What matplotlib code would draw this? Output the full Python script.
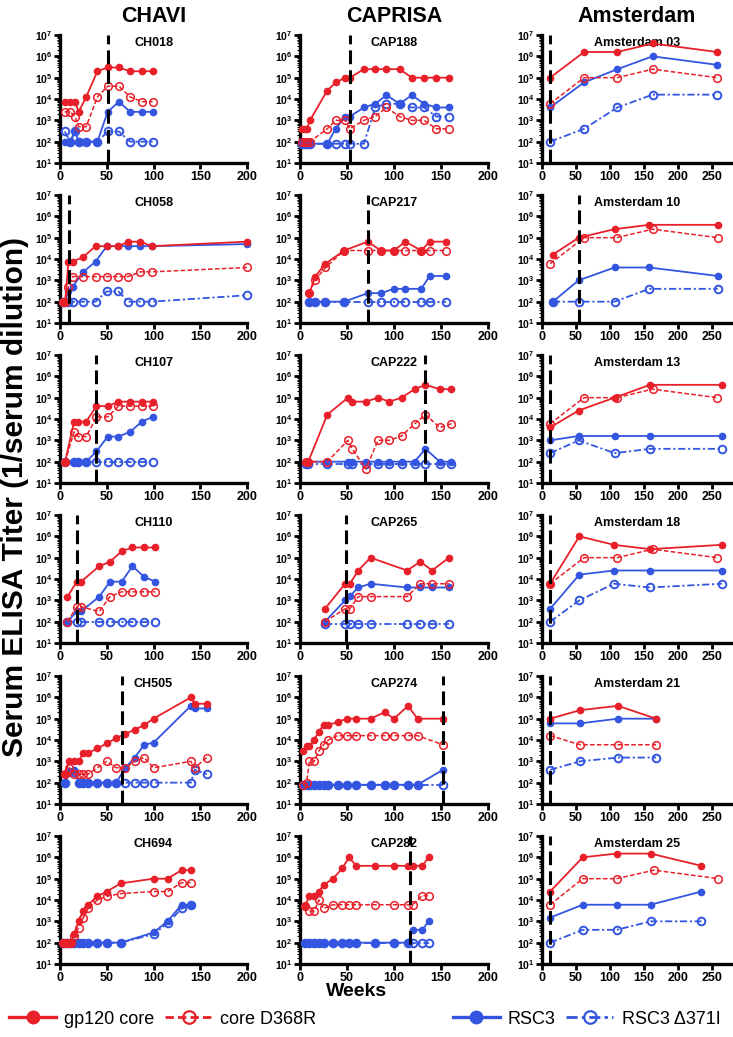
import matplotlib
matplotlib.use('Agg')
import matplotlib.pyplot as plt
from matplotlib.lines import Line2D
from matplotlib.ticker import LogLocator, NullFormatter

plt.rcParams['font.family'] = ['Liberation Sans', 'DejaVu Sans']
plt.rcParams['mathtext.fontset'] = 'custom'
plt.rcParams['mathtext.rm'] = 'Liberation Sans:bold'
plt.rcParams['mathtext.it'] = 'Liberation Sans:bold'
plt.rcParams['mathtext.bf'] = 'Liberation Sans:bold'

RED = '#e8202a'
BLUE = '#3355e0'

# ---- data (weeks, titers) ----
# CHAVI
CH018_W = [5, 11, 16, 20, 28, 40, 51, 63, 75, 88, 99]
CH018_CORE = [7500, 7500, 7500, 2500, 12500, 200000, 300000, 300000, 200000, 200000, 200000]
CH018_D368R = [2500, 2500, 1500, 500, 500, 12500, 40000, 40000, 12500, 7500, 7500]
CH018_RSC3 = [100, 100, 300, 100, 100, 100, 2500, 7500, 2500, 2500, 2500]
CH018_D371 = [300, 100, 300, 100, 100, 100, 300, 300, 100, 100, 100]

CH058_W = [3, 5.5, 9, 13.5, 25, 38, 50, 62.5, 73, 86, 98, 200]
CH058_CORE = [100, 100, 7500, 7500, 12500, 40000, 40000, 40000, 65000, 65000, 40000, 65000]
CH058_D368R = [100, 100, 500, 1500, 1500, 1500, 1500, 1500, 1500, 2500, 2500, 4000]
CH058_RSC3 = [100, 100, 300, 500, 2500, 7500, 40000, 40000, 40000, 40000, 40000, 50000]
CH058_D371 = [100, 100, 100, 100, 100, 100, 300, 300, 100, 100, 100, 200]

CH107_W = [5.5, 15, 19.5, 28, 39, 51, 62.5, 75, 87.5, 99]
CH107_CORE = [100, 7500, 7500, 7500, 40000, 40000, 65000, 65000, 65000, 65000]
CH107_D368R = [100, 2500, 1500, 1500, 12500, 12500, 40000, 40000, 40000, 40000]
CH107_RSC3 = [100, 100, 100, 100, 300, 1500, 1500, 2500, 7500, 12500]
CH107_D371 = [100, 100, 100, 100, 100, 100, 100, 100, 100, 100]

CH110_W = [8, 18, 22.5, 42, 53.5, 66, 77.5, 90, 102]
CH110_CORE = [1500, 7500, 7500, 40000, 65000, 200000, 300000, 300000, 300000]
CH110_D368R = [100, 500, 500, 300, 1500, 2500, 2500, 2500, 2500]
CH110_RSC3 = [100, 300, 300, 1500, 7500, 7500, 40000, 12500, 7500]
CH110_D371 = [100, 100, 100, 100, 100, 100, 100, 100, 100]

CH505_W = [5, 10, 15, 20, 25, 30, 40, 50, 60, 70, 80, 90, 100, 140, 144, 157]
CH505_CORE = [250, 1000, 1000, 1000, 2500, 2500, 4000, 7000, 12000, 20000, 30000, 50000, 100000, 1000000, 500000, 500000]
CH505_D368R = [250, 500, 250, 250, 250, 250, 500, 1000, 500, 500, 1000, 1500, 500, 1000, 500, 1500]
CH505_RSC3 = [100, 300, 400, 100, 100, 100, 100, 100, 100, 500, 1500, 6000, 7500, 400000, 300000, 300000]
CH505_D371 = [100, 300, 300, 100, 100, 100, 100, 100, 100, 100, 100, 100, 100, 100, 400, 250]

CH694_W = [3, 6, 9, 12, 15, 20, 25, 30, 40, 50, 65, 100, 115, 130, 140]
CH694_CORE = [100, 100, 100, 100, 250, 1000, 3000, 6000, 15000, 25000, 60000, 100000, 100000, 250000, 250000]
CH694_D368R = [100, 100, 100, 100, 200, 500, 1500, 4000, 10000, 15000, 20000, 25000, 25000, 65000, 65000]
CH694_RSC3 = [100, 100, 100, 100, 100, 100, 100, 100, 100, 100, 100, 300, 1000, 6000, 6000]
CH694_D371 = [100, 100, 100, 100, 100, 100, 100, 100, 100, 100, 100, 250, 800, 4000, 6000]

# CAPRISA
CAP188_W = [2.5, 5, 7.5, 10.6, 29, 38, 48, 53, 68, 80, 92, 106, 119, 132, 145, 159]
CAP188_CORE = [400, 400, 400, 1000, 25000, 60000, 100000, 100000, 250000, 250000, 250000, 250000, 100000, 100000, 100000, 100000]
CAP188_D368R = [100, 100, 100, 100, 400, 1000, 1000, 400, 1000, 1500, 4000, 1500, 1000, 1000, 400, 400]
CAP188_RSC3 = [80, 80, 80, 80, 80, 400, 1500, 1500, 4000, 6000, 15000, 6000, 15000, 6000, 4000, 4000]
CAP188_D371 = [80, 80, 80, 80, 80, 80, 80, 80, 80, 4000, 6000, 6000, 4000, 4000, 1500, 1500]

CAP217_W = [10, 16, 27, 47, 72, 86, 100, 112, 129, 138, 155]
CAP217_CORE = [250, 1500, 6000, 25000, 65000, 25000, 25000, 65000, 25000, 65000, 65000]
CAP217_D368R = [250, 1000, 4000, 25000, 25000, 25000, 25000, 25000, 25000, 25000, 25000]
CAP217_RSC3 = [100, 100, 100, 100, 250, 250, 400, 400, 400, 1600, 1600]
CAP217_D371 = [100, 100, 100, 100, 100, 100, 100, 100, 100, 100, 100]

CAP222_W = [6.4, 8.8, 29, 51, 55.6, 70, 83, 95, 108, 122, 133.5, 148.7, 161]
CAP222_CORE = [100, 100, 16000, 100000, 65000, 65000, 100000, 65000, 100000, 250000, 400000, 250000, 250000]
CAP222_D368R = [100, 100, 100, 1000, 400, 45, 1000, 1000, 1600, 6000, 16000, 4000, 6000]
CAP222_RSC3 = [100, 100, 100, 100, 100, 100, 100, 100, 100, 100, 400, 100, 100]
CAP222_D371 = [80, 80, 80, 80, 80, 80, 80, 80, 80, 80, 80, 80, 80]

CAP265_W = [26.5, 48, 53, 62, 75, 114, 128, 140.5, 158.5]
CAP265_CORE = [400, 6000, 6000, 25000, 100000, 25000, 65000, 25000, 100000]
CAP265_D368R = [100, 400, 400, 1500, 1500, 1500, 6000, 6000, 6000]
CAP265_RSC3 = [100, 1000, 1600, 4000, 6000, 4000, 4000, 4000, 4000]
CAP265_D371 = [80, 80, 80, 80, 80, 80, 80, 80, 80]

CAP274_W = [3, 7, 10, 15, 20, 25, 30, 40, 50, 60, 75, 90, 100, 115, 125, 152]
CAP274_CORE = [3000, 5000, 5000, 10000, 25000, 50000, 50000, 70000, 100000, 100000, 100000, 200000, 100000, 400000, 100000, 100000]
CAP274_D368R = [80, 100, 1000, 1000, 3000, 6000, 10000, 16000, 16000, 16000, 16000, 16000, 16000, 16000, 16000, 6000]
CAP274_RSC3 = [80, 80, 80, 80, 80, 80, 80, 80, 80, 80, 80, 80, 80, 80, 80, 400]
CAP274_D371 = [80, 80, 80, 80, 80, 80, 80, 80, 80, 80, 80, 80, 80, 80, 80, 80]

CAP282_W = [5, 10, 15, 20, 25, 35, 45, 52, 60, 80, 100, 115, 120, 130, 137]
CAP282_CORE = [5000, 15000, 15000, 25000, 50000, 100000, 300000, 1000000, 400000, 400000, 400000, 400000, 400000, 400000, 1000000]
CAP282_D368R = [5000, 3000, 3000, 10000, 4000, 6000, 6000, 6000, 6000, 6000, 6000, 6000, 6000, 16000, 16000]
CAP282_RSC3 = [100, 100, 100, 100, 100, 100, 100, 100, 100, 100, 100, 100, 400, 400, 1000]
CAP282_D371 = [100, 100, 100, 100, 100, 100, 100, 100, 100, 100, 100, 100, 100, 100, 100]

# Amsterdam (open-symbol series sampled at slightly different weeks)
AMS03_W = [12, 62, 111, 163, 258]
AMS03_WO = [12, 62, 111, 163, 258]
AMS03_CORE = [100000, 1600000, 1600000, 4000000, 1600000]
AMS03_D368R = [6000, 100000, 100000, 250000, 100000]
AMS03_RSC3 = [4000, 60000, 250000, 1000000, 400000]
AMS03_D371 = [100, 400, 4000, 16000, 16000]

AMS10_W = [16, 54, 107, 158, 259]
AMS10_WO = [12, 62, 110, 163, 259]
AMS10_CORE = [16000, 100000, 250000, 400000, 400000]
AMS10_D368R = [6000, 100000, 100000, 250000, 100000]
AMS10_RSC3 = [100, 1000, 4000, 4000, 1600]
AMS10_D371 = [100, 100, 100, 400, 400]

AMS13_W = [12, 54, 107, 159, 265]
AMS13_WO = [12, 62, 110, 163, 258]
AMS13_CORE = [4000, 25000, 100000, 400000, 400000]
AMS13_D368R = [6000, 100000, 100000, 250000, 100000]
AMS13_RSC3 = [1000, 1600, 1600, 1600, 1600]
AMS13_D371 = [250, 1000, 250, 400, 400]

AMS18_W = [12, 55, 106, 159, 265]
AMS18_WO = [12, 62, 111, 163, 258]
AMS18_CORE = [6000, 1000000, 400000, 250000, 400000]
AMS18_D368R = [6000, 100000, 100000, 250000, 100000]
AMS18_RSC3 = [400, 16000, 25000, 25000, 25000]
AMS18_D371 = [100, 1000, 6000, 4000, 6000]

AMS21_W = [12, 56, 112, 168]
AMS21_WO = [12, 56, 112, 168]
AMS21_CORE = [100000, 250000, 400000, 100000]
AMS21_D368R = [16000, 6000, 6000, 6000]
AMS21_RSC3 = [60000, 60000, 100000, 100000]
AMS21_D371 = [400, 1000, 1500, 1500]

AMS25_W = [12, 60, 110, 160, 235]
AMS25_WO = [12, 60, 110, 165, 260]
AMS25_CORE = [25000, 1000000, 1500000, 1500000, 400000]
AMS25_D368R = [6000, 100000, 100000, 250000, 100000]
AMS25_RSC3 = [1500, 6000, 6000, 6000, 25000]
AMS25_D371 = [100, 400, 400, 1000, 1000]

COL_TITLES = ['CHAVI', 'CAPRISA', 'Amsterdam']
SERIES_LABELS = ['gp120 core', 'core D368R', 'RSC3', 'RSC3 \u0394371I']

# (name, weeks filled, weeks open, core, d368r, rsc3, d371, vline or None)
CHAVI = [
    ('CH018', CH018_W, CH018_W, CH018_CORE, CH018_D368R, CH018_RSC3, CH018_D371, 51),
    ('CH058', CH058_W, CH058_W, CH058_CORE, CH058_D368R, CH058_RSC3, CH058_D371, 10),
    ('CH107', CH107_W, CH107_W, CH107_CORE, CH107_D368R, CH107_RSC3, CH107_D371, 39),
    ('CH110', CH110_W, CH110_W, CH110_CORE, CH110_D368R, CH110_RSC3, CH110_D371, 18),
    ('CH505', CH505_W, CH505_W, CH505_CORE, CH505_D368R, CH505_RSC3, CH505_D371, 66),
    ('CH694', CH694_W, CH694_W, CH694_CORE, CH694_D368R, CH694_RSC3, CH694_D371, None),
]
CAPRISA = [
    ('CAP188', CAP188_W, CAP188_W, CAP188_CORE, CAP188_D368R, CAP188_RSC3, CAP188_D371, 53),
    ('CAP217', CAP217_W, CAP217_W, CAP217_CORE, CAP217_D368R, CAP217_RSC3, CAP217_D371, 72),
    ('CAP222', CAP222_W, CAP222_W, CAP222_CORE, CAP222_D368R, CAP222_RSC3, CAP222_D371, 133.5),
    ('CAP265', CAP265_W, CAP265_W, CAP265_CORE, CAP265_D368R, CAP265_RSC3, CAP265_D371, 48.5),
    ('CAP274', CAP274_W, CAP274_W, CAP274_CORE, CAP274_D368R, CAP274_RSC3, CAP274_D371, 152),
    ('CAP282', CAP282_W, CAP282_W, CAP282_CORE, CAP282_D368R, CAP282_RSC3, CAP282_D371, 117),
]
AMSTERDAM = [
    ('Amsterdam 03', AMS03_W, AMS03_WO, AMS03_CORE, AMS03_D368R, AMS03_RSC3, AMS03_D371, 12),
    ('Amsterdam 10', AMS10_W, AMS10_WO, AMS10_CORE, AMS10_D368R, AMS10_RSC3, AMS10_D371, 54),
    ('Amsterdam 13', AMS13_W, AMS13_WO, AMS13_CORE, AMS13_D368R, AMS13_RSC3, AMS13_D371, 12),
    ('Amsterdam 18', AMS18_W, AMS18_WO, AMS18_CORE, AMS18_D368R, AMS18_RSC3, AMS18_D371, 12),
    ('Amsterdam 21', AMS21_W, AMS21_WO, AMS21_CORE, AMS21_D368R, AMS21_RSC3, AMS21_D371, 12),
    ('Amsterdam 25', AMS25_W, AMS25_WO, AMS25_CORE, AMS25_D368R, AMS25_RSC3, AMS25_D371, 12),
]

W_PX, H_PX = 733, 1037
fig = plt.figure(figsize=(W_PX / 100, H_PX / 100), dpi=100)

col_left = [60, 300, 542]
col_width = [187, 188, 190]
col_xmax = [200, 200, 280]
col_xticks = [[0, 50, 100, 150, 200], [0, 50, 100, 150, 200], [0, 50, 100, 150, 200, 250]]
row_top = [35, 195, 355, 515, 676, 836]
ax_h = 128

DASH_OPEN = (0, (3, 1.5))
DASHDOT = (0, (4, 1.5, 1.2, 1.5))


def draw_panel(ax, panel, xmax, xticks):
    name, w, wo, core, d368r, rsc3, d371, vline = panel
    ax.plot(w, rsc3, '-o', color=BLUE, ms=4.5, lw=1.3, clip_on=False, zorder=3)
    ax.plot(w, d371, color=BLUE, ls=DASHDOT, marker='o', mfc='none', mew=1.4, ms=5.5,
            lw=1.3, clip_on=False, zorder=3)
    ax.plot(w, core, '-o', color=RED, ms=4.5, lw=1.3, clip_on=False, zorder=4)
    ax.plot(wo, d368r, color=RED, ls=DASH_OPEN, marker='o', mfc='none', mew=1.1, ms=5.5,
            lw=1.1, clip_on=False, zorder=4)
    if vline is not None:
        ax.axvline(vline, color='black', lw=2.2, ls=(0, (4.5, 2)), zorder=5)
    ax.set_yscale('log')
    ax.set_ylim(10, 1e7)
    ax.set_xlim(0, xmax)
    ax.set_yticks([10 ** k for k in range(1, 8)])
    ax.set_yticklabels([r'$10^{%d}$' % k for k in range(1, 8)], fontsize=7.5)
    ax.yaxis.set_minor_locator(LogLocator(base=10, subs=range(2, 10), numticks=20))
    ax.yaxis.set_minor_formatter(NullFormatter())
    ax.set_xticks(xticks)
    ax.set_xticklabels([str(t) for t in xticks], fontsize=9, fontweight='bold')
    for s in ['top', 'right']:
        ax.spines[s].set_visible(False)
    for s in ['left', 'bottom']:
        ax.spines[s].set_linewidth(2.4)
    ax.tick_params(axis='both', which='major', direction='out', length=4, width=2, pad=1.5)
    ax.tick_params(axis='y', which='minor', direction='out', length=2, width=0.8)
    ax.text(0.5, 0.94, name, transform=ax.transAxes, ha='center', va='center',
            fontsize=9, fontweight='bold')


for c, panels in enumerate([CHAVI, CAPRISA, AMSTERDAM]):
    for r, panel in enumerate(panels):
        left = col_left[c] / W_PX
        bottom = 1 - (row_top[r] + ax_h) / H_PX
        ax = fig.add_axes([left, bottom, col_width[c] / W_PX, ax_h / H_PX])
        draw_panel(ax, panel, col_xmax[c], col_xticks[c])
    cx = (col_left[c] + col_width[c] / 2) / W_PX
    fig.text(cx, 1 - 17 / H_PX, COL_TITLES[c], ha='center', va='center',
             fontsize=15.5, fontweight='bold')

fig.text(15 / W_PX, 1 - 497 / H_PX, 'Serum ELISA Titer (1/serum dilution)', rotation=90,
         ha='center', va='center', fontsize=21.5, fontweight='bold')
fig.text(357 / W_PX, 1 - 992 / H_PX, 'Weeks', ha='center', va='center',
         fontsize=14, fontweight='bold')

h_core = Line2D([], [], color=RED, lw=2.4, marker='o', ms=9)
h_d368r = Line2D([], [], color=RED, lw=2, ls=(0, (3, 1.5)), marker='o', mfc='none', ms=9, mew=1.6)
h_rsc3 = Line2D([], [], color=BLUE, lw=2.4, marker='o', ms=9)
h_d371 = Line2D([], [], color=BLUE, lw=2, ls=(0, (4, 1.5, 1.2, 1.5)), marker='o', mfc='none', ms=9, mew=1.6)

leg1 = fig.legend([h_core, h_d368r], SERIES_LABELS[:2], loc='center left',
                  bbox_to_anchor=(0.0, 1 - 1019 / H_PX), ncol=2, frameon=False,
                  fontsize=13, handlelength=2.6, columnspacing=0.6, handletextpad=0.45,
                  borderaxespad=0.1)
leg2 = fig.legend([h_rsc3, h_d371], SERIES_LABELS[2:], loc='center right',
                  bbox_to_anchor=(0.995, 1 - 1019 / H_PX), ncol=2, frameon=False,
                  fontsize=13, handlelength=2.6, columnspacing=0.6, handletextpad=0.45,
                  borderaxespad=0.1)

fig.savefig('out.png', dpi=100)
